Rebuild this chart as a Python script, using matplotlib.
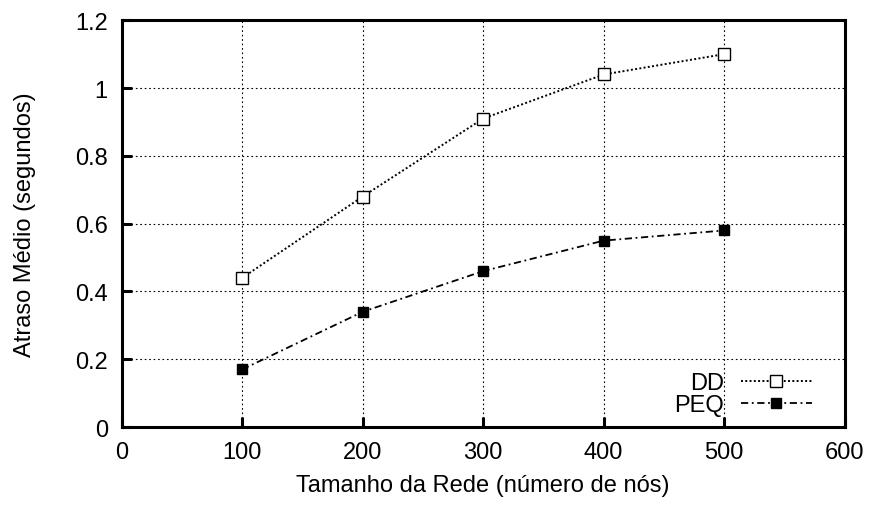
import matplotlib
matplotlib.use("Agg")
import matplotlib.pyplot as plt

plt.rcParams["font.family"] = ["Liberation Sans", "DejaVu Sans"]

network_sizes = [100, 200, 300, 400, 500]
dd_delay = [0.44, 0.68, 0.91, 1.04, 1.10]
peq_delay = [0.17, 0.34, 0.46, 0.55, 0.58]

fig = plt.figure(figsize=(8.69, 5.06), dpi=100)
ax = fig.add_axes([0.140, 0.154, 0.832, 0.804])

ax.plot(network_sizes, dd_delay, color="black", linestyle=(0, (1, 1.2)), linewidth=1.4,
        marker="s", markersize=8.5, markerfacecolor="white", markeredgecolor="black",
        markeredgewidth=1.0, label="DD")
ax.plot(network_sizes, peq_delay, color="black", linestyle=(0, (4, 2, 1, 2)), linewidth=1.3,
        marker="s", markersize=7.5, markerfacecolor="black", markeredgecolor="black",
        label="PEQ")

ax.set_xlim(0, 600)
ax.set_ylim(0, 1.2)
ax.set_xticks([0, 100, 200, 300, 400, 500, 600])
ax.set_yticks([0, 0.2, 0.4, 0.6, 0.8, 1.0, 1.2])
ax.set_yticklabels(["0", "0.2", "0.4", "0.6", "0.8", "1", "1.2"])
ax.grid(True, color="black", linestyle=(0, (1.5, 2.5)), linewidth=0.8)

for spine in ax.spines.values():
    spine.set_linewidth(2.2)
ax.tick_params(direction="in", length=7, width=2.2, labelsize=17, pad=10,
               top=False, right=False)

ax.set_xlabel("Tamanho da Rede (número de nós)", fontsize=17, labelpad=8)
ax.set_ylabel("Atraso Médio (segundos)", fontsize=17, labelpad=28)

ax.legend(loc="lower right", bbox_to_anchor=(0.964, 0.01), frameon=False,
          markerfirst=False, fontsize=17, handlelength=3.0, labelspacing=0.0,
          borderaxespad=0.0, borderpad=0.3, handletextpad=0.7)

fig.savefig("out.png", dpi=100)
